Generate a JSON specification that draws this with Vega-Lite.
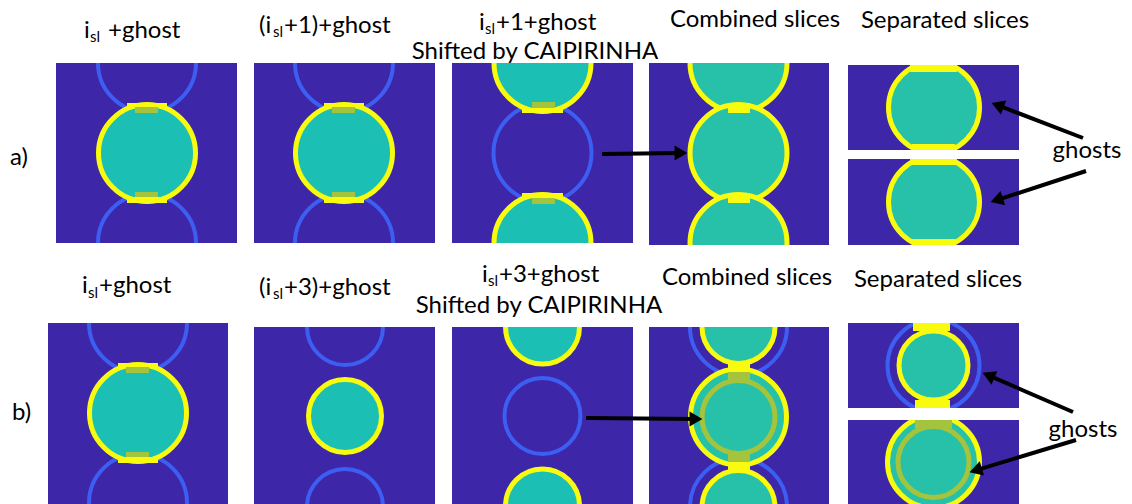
{
  "$schema": "https://vega.github.io/schema/vega-lite/v6.json",
  "width": 1132,
  "height": 504,
  "padding": 0,
  "autosize": {"type": "none"},
  "background": "white",
  "config": {"view": {"stroke": null}},
  "datasets": {
    "panels": [
      {"x1": 56, "x2": 237, "y1": 63, "y2": 243},
      {"x1": 254, "x2": 435, "y1": 63, "y2": 243},
      {"x1": 452, "x2": 633, "y1": 63, "y2": 243},
      {"x1": 649, "x2": 829, "y1": 63, "y2": 245},
      {"x1": 848, "x2": 1019, "y1": 65, "y2": 150},
      {"x1": 848, "x2": 1019, "y1": 159, "y2": 245},
      {"x1": 48, "x2": 228, "y1": 323, "y2": 504},
      {"x1": 254, "x2": 435, "y1": 327, "y2": 507},
      {"x1": 452, "x2": 633, "y1": 327, "y2": 507},
      {"x1": 649, "x2": 829, "y1": 327, "y2": 507},
      {"x1": 848, "x2": 1019, "y1": 323, "y2": 408},
      {"x1": 848, "x2": 1019, "y1": 420, "y2": 504}
    ],
    "rings": [
      {"cx": 147, "cy": 63, "r": 49, "kind": "ghost"},
      {"cx": 147, "cy": 243, "r": 49, "kind": "ghost"},
      {"cx": 344, "cy": 63, "r": 49, "kind": "ghost"},
      {"cx": 344, "cy": 243, "r": 49, "kind": "ghost"},
      {"cx": 542.5, "cy": 153, "r": 49, "kind": "ghost"},
      {"cx": 138, "cy": 323, "r": 49, "kind": "ghost"},
      {"cx": 138, "cy": 503, "r": 49, "kind": "ghost"},
      {"cx": 345, "cy": 327, "r": 38, "kind": "ghost"},
      {"cx": 345, "cy": 507, "r": 38, "kind": "ghost"},
      {"cx": 542.5, "cy": 416, "r": 38, "kind": "ghost"},
      {"cx": 738.5, "cy": 327, "r": 48.5, "kind": "ghost"},
      {"cx": 738.5, "cy": 507, "r": 48.5, "kind": "ghost"},
      {"cx": 933.5, "cy": 365.5, "r": 46, "kind": "ghost"}
    ],
    "circles": [
      {"cx": 147, "cy": 153, "r": 48.5, "kind": "single"},
      {"cx": 344, "cy": 153, "r": 48.5, "kind": "single"},
      {"cx": 542.5, "cy": 63, "r": 48.5, "kind": "single"},
      {"cx": 542.5, "cy": 243, "r": 48.5, "kind": "single"},
      {"cx": 738.5, "cy": 63, "r": 48.5, "kind": "combined"},
      {"cx": 738.5, "cy": 153, "r": 48.5, "kind": "combined"},
      {"cx": 738.5, "cy": 243, "r": 48.5, "kind": "combined"},
      {"cx": 934, "cy": 107.5, "r": 45.5, "kind": "combined"},
      {"cx": 934, "cy": 202, "r": 45.5, "kind": "combined"},
      {"cx": 138, "cy": 413, "r": 48.5, "kind": "single"},
      {"cx": 345, "cy": 416, "r": 36.5, "kind": "single"},
      {"cx": 542.5, "cy": 327, "r": 37, "kind": "single"},
      {"cx": 542.5, "cy": 506, "r": 37, "kind": "single"},
      {"cx": 738.5, "cy": 327, "r": 36.5, "kind": "combined"},
      {"cx": 738.5, "cy": 507, "r": 36.5, "kind": "combined"},
      {"cx": 738.5, "cy": 417, "r": 48, "kind": "combined"},
      {"cx": 933.5, "cy": 365.5, "r": 34.5, "kind": "combined"},
      {"cx": 933.5, "cy": 462, "r": 46, "kind": "combined"}
    ],
    "overlaps": [
      {"cx": 738.5, "cy": 417, "r": 36.5},
      {"cx": 933.5, "cy": 462, "r": 35.5}
    ],
    "caps": [
      {"x1": 127, "x2": 167, "y1": 103, "y2": 108, "kind": "edge"},
      {"x1": 135, "x2": 158, "y1": 107, "y2": 113, "kind": "overlap"},
      {"x1": 135, "x2": 158, "y1": 192, "y2": 198, "kind": "overlap"},
      {"x1": 127, "x2": 167, "y1": 197, "y2": 203, "kind": "edge"},
      {"x1": 324, "x2": 364, "y1": 103, "y2": 108, "kind": "edge"},
      {"x1": 332, "x2": 355, "y1": 107, "y2": 113, "kind": "overlap"},
      {"x1": 332, "x2": 355, "y1": 192, "y2": 198, "kind": "overlap"},
      {"x1": 324, "x2": 364, "y1": 197, "y2": 203, "kind": "edge"},
      {"x1": 522, "x2": 563, "y1": 108, "y2": 113, "kind": "edge"},
      {"x1": 532, "x2": 555, "y1": 102, "y2": 108, "kind": "overlap"},
      {"x1": 522, "x2": 563, "y1": 193, "y2": 198, "kind": "edge"},
      {"x1": 532, "x2": 555, "y1": 198, "y2": 204, "kind": "overlap"},
      {"x1": 728, "x2": 750, "y1": 103, "y2": 113, "kind": "edge"},
      {"x1": 728, "x2": 750, "y1": 193, "y2": 203, "kind": "edge"},
      {"x1": 910, "x2": 957, "y1": 65, "y2": 72, "kind": "edge"},
      {"x1": 912, "x2": 955, "y1": 144, "y2": 150, "kind": "edge"},
      {"x1": 910, "x2": 957, "y1": 159, "y2": 165, "kind": "edge"},
      {"x1": 912, "x2": 955, "y1": 239, "y2": 245, "kind": "edge"},
      {"x1": 118, "x2": 158, "y1": 363, "y2": 368, "kind": "edge"},
      {"x1": 126, "x2": 149, "y1": 367, "y2": 373, "kind": "overlap"},
      {"x1": 126, "x2": 149, "y1": 452, "y2": 458, "kind": "overlap"},
      {"x1": 118, "x2": 158, "y1": 457, "y2": 463, "kind": "edge"},
      {"x1": 728, "x2": 750, "y1": 363, "y2": 372, "kind": "edge"},
      {"x1": 728, "x2": 750, "y1": 372, "y2": 380, "kind": "overlap"},
      {"x1": 728, "x2": 750, "y1": 452, "y2": 462, "kind": "overlap"},
      {"x1": 728, "x2": 750, "y1": 462, "y2": 472, "kind": "edge"},
      {"x1": 913, "x2": 950, "y1": 323, "y2": 331, "kind": "edge"},
      {"x1": 915, "x2": 950, "y1": 400, "y2": 408, "kind": "edge"},
      {"x1": 915, "x2": 952, "y1": 420, "y2": 428, "kind": "overlap"}
    ],
    "masks": [
      {"x1": 0, "x2": 245, "y1": -20, "y2": 63},
      {"x1": 0, "x2": 245, "y1": 243, "y2": 323},
      {"x1": 245, "x2": 443, "y1": -20, "y2": 63},
      {"x1": 245, "x2": 443, "y1": 243, "y2": 327},
      {"x1": 443, "x2": 640, "y1": -20, "y2": 63},
      {"x1": 443, "x2": 640, "y1": 243, "y2": 327},
      {"x1": 640, "x2": 838, "y1": -20, "y2": 63},
      {"x1": 640, "x2": 838, "y1": 245, "y2": 327},
      {"x1": 838, "x2": 1030, "y1": -20, "y2": 65},
      {"x1": 838, "x2": 1030, "y1": 150, "y2": 159},
      {"x1": 838, "x2": 1030, "y1": 245, "y2": 323},
      {"x1": 838, "x2": 1030, "y1": 408, "y2": 420}
    ],
    "arrows": [
      {"x1": 602, "y1": 154, "x2": 681, "y2": 153, "angle": 90},
      {"x1": 1083, "y1": 138, "x2": 997.6, "y2": 105.2, "angle": 291},
      {"x1": 1086, "y1": 171, "x2": 996.7, "y2": 200.1, "angle": 252},
      {"x1": 586, "y1": 418, "x2": 696, "y2": 419, "angle": 90},
      {"x1": 1073, "y1": 412, "x2": 988.5, "y2": 375.4, "angle": 293.4},
      {"x1": 1076, "y1": 440, "x2": 975.7, "y2": 470.3, "angle": 253.2}
    ],
    "centerText": [
      {"text": "Shifted by CAIPIRINHA", "x": 535, "y": 59},
      {"text": "Shifted by CAIPIRINHA", "x": 539, "y": 313},
      {"text": "Combined slices", "x": 755, "y": 27},
      {"text": "Combined slices", "x": 747, "y": 285},
      {"text": "Separated slices", "x": 945, "y": 28},
      {"text": "Separated slices", "x": 938, "y": 287},
      {"text": "ghosts", "x": 1087, "y": 158},
      {"text": "ghosts", "x": 1083, "y": 437}
    ],
    "leftText": [
      {"text": "a)", "x": 10, "y": 165},
      {"text": "b)", "x": 12, "y": 420},
      {"text": "i", "x": 84, "y": 38},
      {"text": "+ghost", "x": 108, "y": 38},
      {"text": "(i", "x": 259, "y": 33},
      {"text": "+1)+ghost", "x": 284, "y": 33},
      {"text": "i", "x": 479, "y": 30},
      {"text": "+1+ghost", "x": 496, "y": 30},
      {"text": "i", "x": 82, "y": 293},
      {"text": "+ghost", "x": 99, "y": 293},
      {"text": "(i", "x": 259, "y": 295},
      {"text": "+3)+ghost", "x": 284, "y": 295},
      {"text": "i", "x": 482, "y": 282},
      {"text": "+3+ghost", "x": 499, "y": 282}
    ],
    "subText": [
      {"text": "sl", "x": 90, "y": 42},
      {"text": "sl", "x": 273, "y": 37},
      {"text": "sl", "x": 485, "y": 34},
      {"text": "sl", "x": 88, "y": 298},
      {"text": "sl", "x": 273, "y": 299},
      {"text": "sl", "x": 488, "y": 286}
    ]
  },
  "resolve": {"scale": {"fill": "independent", "stroke": "independent"}},
  "layer": [
    {
      "data": {"name": "panels"},
      "mark": {"type": "rect", "fill": "#3e26a8"},
      "encoding": {
        "x": {"field": "x1", "type": "quantitative", "scale": {"domain": [0, 1132], "nice": false, "zero": false}, "axis": null},
        "x2": {"field": "x2"},
        "y": {"field": "y1", "type": "quantitative", "scale": {"domain": [0, 504], "nice": false, "zero": false, "reverse": true}, "axis": null},
        "y2": {"field": "y2"}
      }
    },
    {
      "data": {"name": "rings"},
      "mark": {"type": "point", "shape": "circle", "filled": false, "strokeWidth": 4, "opacity": 1, "strokeOpacity": 1, "stroke": "#3d5ef2"},
      "encoding": {
        "x": {"field": "cx", "type": "quantitative", "axis": null},
        "y": {"field": "cy", "type": "quantitative", "axis": null},
        "size": {"field": "r", "type": "quantitative", "scale": {"type": "pow", "exponent": 2, "domain": [0, 100], "range": [0, 40000]}, "legend": null}
      }
    },
    {
      "data": {"name": "circles"},
      "mark": {"type": "point", "shape": "circle", "filled": true, "stroke": "#f9fb0e", "strokeWidth": 5, "opacity": 1, "fillOpacity": 1, "strokeOpacity": 1},
      "encoding": {
        "x": {"field": "cx", "type": "quantitative", "axis": null},
        "y": {"field": "cy", "type": "quantitative", "axis": null},
        "size": {"field": "r", "type": "quantitative", "legend": null},
        "fill": {"field": "kind", "type": "nominal", "scale": {"domain": ["single", "combined"], "range": ["#1bbfb4", "#27c1aa"]}, "legend": null}
      }
    },
    {
      "data": {"name": "overlaps"},
      "mark": {"type": "point", "shape": "circle", "filled": false, "strokeWidth": 5, "opacity": 1, "strokeOpacity": 1, "stroke": "#a3c43c"},
      "encoding": {
        "x": {"field": "cx", "type": "quantitative", "axis": null},
        "y": {"field": "cy", "type": "quantitative", "axis": null},
        "size": {"field": "r", "type": "quantitative", "legend": null}
      }
    },
    {
      "data": {"name": "caps"},
      "mark": {"type": "rect"},
      "encoding": {
        "x": {"field": "x1", "type": "quantitative", "axis": null},
        "x2": {"field": "x2"},
        "y": {"field": "y1", "type": "quantitative", "axis": null},
        "y2": {"field": "y2"},
        "fill": {"field": "kind", "type": "nominal", "scale": {"domain": ["edge", "overlap"], "range": ["#f9fb0e", "#a3c43c"]}, "legend": null}
      }
    },
    {
      "data": {"name": "masks"},
      "mark": {"type": "rect", "fill": "white"},
      "encoding": {
        "x": {"field": "x1", "type": "quantitative", "axis": null},
        "x2": {"field": "x2"},
        "y": {"field": "y1", "type": "quantitative", "axis": null},
        "y2": {"field": "y2"}
      }
    },
    {
      "data": {"name": "arrows"},
      "mark": {"type": "rule", "color": "black", "strokeWidth": 4},
      "encoding": {
        "x": {"field": "x1", "type": "quantitative", "axis": null},
        "x2": {"field": "x2"},
        "y": {"field": "y1", "type": "quantitative", "axis": null},
        "y2": {"field": "y2"}
      }
    },
    {
      "data": {"name": "arrows"},
      "mark": {"type": "point", "shape": "triangle-up", "filled": true, "fill": "black", "size": 220, "opacity": 1, "strokeWidth": 0},
      "encoding": {
        "x": {"field": "x2", "type": "quantitative", "axis": null},
        "y": {"field": "y2", "type": "quantitative", "axis": null},
        "angle": {"field": "angle", "type": "quantitative", "scale": {"domain": [0, 360], "range": [0, 360]}, "legend": null}
      }
    },
    {
      "data": {"name": "centerText"},
      "mark": {"type": "text", "font": "Lato", "fontSize": 24, "align": "center", "baseline": "alphabetic", "color": "black"},
      "encoding": {
        "x": {"field": "x", "type": "quantitative", "axis": null},
        "y": {"field": "y", "type": "quantitative", "axis": null},
        "text": {"field": "text"}
      }
    },
    {
      "data": {"name": "leftText"},
      "mark": {"type": "text", "font": "Lato", "fontSize": 24, "align": "left", "baseline": "alphabetic", "color": "black"},
      "encoding": {
        "x": {"field": "x", "type": "quantitative", "axis": null},
        "y": {"field": "y", "type": "quantitative", "axis": null},
        "text": {"field": "text"}
      }
    },
    {
      "data": {"name": "subText"},
      "mark": {"type": "text", "font": "Lato", "fontSize": 15, "align": "left", "baseline": "alphabetic", "color": "black"},
      "encoding": {
        "x": {"field": "x", "type": "quantitative", "axis": null},
        "y": {"field": "y", "type": "quantitative", "axis": null},
        "text": {"field": "text"}
      }
    }
  ]
}
